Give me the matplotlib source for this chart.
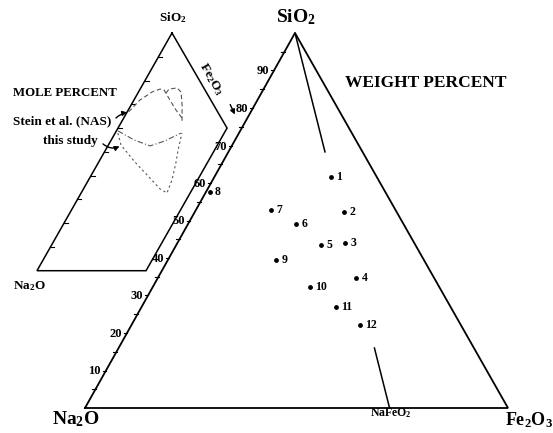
import matplotlib
matplotlib.use("Agg")
import matplotlib.pyplot as plt
import numpy as np

plt.rcParams['font.family'] = 'Liberation Serif'
plt.rcParams['font.weight'] = 'bold'
plt.rcParams['mathtext.fontset'] = 'custom'
plt.rcParams['mathtext.rm'] = 'Liberation Serif:bold'
plt.rcParams['mathtext.bf'] = 'Liberation Serif:bold'
plt.rcParams['mathtext.default'] = 'bf'

# glass analyses, weight percent (Na2O is the balance)
sample_ids = ['1', '2', '3', '4', '5', '6', '7', '8', '9', '10', '11', '12']
sio2_wt = [61.7, 52.3, 44.1, 34.7, 43.5, 49.0, 52.8, 57.7, 39.5, 32.2, 27.0, 22.1]
fe2o3_wt = [27.5, 35.3, 39.6, 46.8, 34.1, 25.6, 17.7, 0.8, 25.6, 37.2, 45.9, 54.0]

# NaFeO2 on the Na2O-Fe2O3 join, wt% Fe2O3
nafeo2_fe2o3 = 72.0

# glass-forming boundaries, mole percent (SiO2, Fe2O3)
stein_sio2 = [66.8, 71.8, 75.2, 76.4, 76.0, 71.8, 67.6, 64.2]
stein_fe2o3 = [0.5, 2.2, 5.0, 7.3, 9.0, 13.2, 17.5, 21.4]
upper_sio2 = [74.7, 76.4, 76.9, 75.2, 69.7, 62.6]
upper_fe2o3 = [10.3, 10.6, 13.3, 15.6, 18.7, 22.2]
middle_sio2 = [58.8, 55.0, 52.5, 54.6, 57.9]
middle_fe2o3 = [0.6, 8.4, 15.5, 19.9, 24.1]
study_sio2 = [57.9, 52.9, 45.7, 39.0, 34.4, 32.7, 38.2, 45.3, 50.8, 57.9]
study_fe2o3 = [1.0, 4.6, 13.3, 22.1, 28.1, 31.5, 30.6, 28.5, 26.6, 24.5]

axis_ticks = list(range(10, 100, 10))

# triangle corners on the page: Na2O, SiO2, Fe2O3
BIG = [(85, 408), (295, 33), (508, 408)]
SMALL = [(37, 270.7), (172, 33), (309.6, 270.7)]


def project(corners, sio2, fe2o3):
    s = np.asarray(sio2, dtype=float) / 100
    f = np.asarray(fe2o3, dtype=float) / 100
    n = 1 - s - f
    (xa, ya), (xb, yb), (xc, yc) = corners
    return n * xa + s * xb + f * xc, n * ya + s * yb + f * yc


fig = plt.figure(figsize=(5.53, 4.33), dpi=100)
ax = fig.add_axes([0, 0, 1, 1])
ax.set_xlim(0, 553)
ax.set_ylim(433, 0)
ax.axis('off')

# weight percent triangle
x, y = project(BIG, [0, 100, 0, 0], [0, 0, 100, 0])
ax.plot(x, y, color='black', lw=1.3, solid_joinstyle='miter')

# SiO2 - NaFeO2 join, drawn near both ends
for s0, s1 in [(100, 68.3), (16.0, 0)]:
    x, y = project(BIG, [s0, s1],
                   [nafeo2_fe2o3 * (100 - s0) / 100, nafeo2_fe2o3 * (100 - s1) / 100])
    ax.plot(x, y, color='black', lw=1.1)

for v in range(5, 100, 5):
    x, y = project(BIG, [v], [0])
    ax.plot([x[0] - 3.5, x[0]], [y[0], y[0]], color='black', lw=0.8)
for v in axis_ticks:
    x, y = project(BIG, [v], [0])
    ax.text(x[0] - 5, y[0] + 1, str(v), ha='right', va='center', fontsize=9)

x, y = project(BIG, sio2_wt, fe2o3_wt)
ax.scatter(x, y, s=6, color='black', zorder=3)
for label, xi, yi in zip(sample_ids, x, y):
    ax.annotate(label, (xi, yi), xytext=(4, 0), textcoords='offset points',
                ha='left', va='center', fontsize=8.5)

ax.text(296, 17, 'SiO$_2$', ha='center', va='center', fontsize=14)
ax.text(76, 419, 'Na$_2$O', ha='center', va='center', fontsize=14)
ax.text(529, 420, 'Fe$_2$O$_3$', ha='center', va='center', fontsize=13)
ax.text(391, 413, 'NaFeO$_2$', ha='center', va='center', fontsize=8.5)
ax.text(426, 83, 'WEIGHT PERCENT', ha='center', va='center', fontsize=12.5)
ax.annotate('', xy=(236, 117), xytext=(229, 102),
            arrowprops=dict(arrowstyle='-|>', color='black', lw=1.0,
                            mutation_scale=7))

# mole percent inset, cut at 40 % Fe2O3
x, y = project(SMALL, [100, 0, 0, 60, 100], [0, 0, 40, 40, 0])
ax.plot(x, y, color='black', lw=1.1, solid_joinstyle='miter')
for v in axis_ticks:
    x, y = project(SMALL, [v], [0])
    ax.plot([x[0], x[0] + 3.5], [y[0], y[0]], color='black', lw=0.8)

for sio2, fe2o3, ls in [(stein_sio2, stein_fe2o3, (0, (4, 2.5))),
                        (upper_sio2, upper_fe2o3, (0, (4, 2.5))),
                        (middle_sio2, middle_fe2o3, (0, (5, 2, 1, 2))),
                        (study_sio2, study_fe2o3, (0, (2, 2.5)))]:
    x, y = project(SMALL, sio2, fe2o3)
    ax.plot(x, y, color='#555555', lw=0.8, linestyle=ls)

ax.text(173, 18, 'SiO$_2$', ha='center', va='center', fontsize=9.5)
ax.text(29, 286, 'Na$_2$O', ha='center', va='center', fontsize=9.5)
ax.text(211, 79, 'Fe$_2$O$_3$', ha='center', va='center', fontsize=9.5,
        rotation=-60)
ax.text(13, 93, 'MOLE PERCENT', ha='left', va='center', fontsize=9.3)
ax.text(13, 121, 'Stein et al. (NAS)', ha='left', va='center', fontsize=9.5)
ax.text(43, 141, 'this study', ha='left', va='center', fontsize=9.5)
ax.annotate('', xy=(130, 112), xytext=(114, 120),
            arrowprops=dict(arrowstyle='-|>', color='black', lw=1.0,
                            mutation_scale=7, connectionstyle='arc3,rad=-0.2'))
ax.annotate('', xy=(122, 145), xytext=(101, 142),
            arrowprops=dict(arrowstyle='-|>', color='black', lw=1.0,
                            mutation_scale=7, connectionstyle='arc3,rad=0.4'))

fig.savefig('out.png', dpi=100)
